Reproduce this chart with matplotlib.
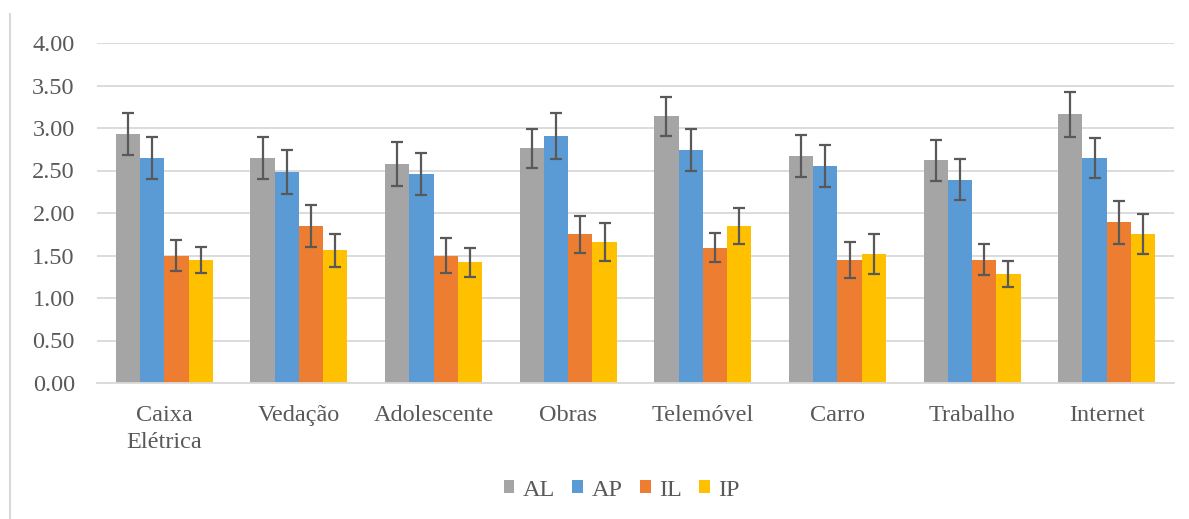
import matplotlib
matplotlib.use("Agg")
import matplotlib.pyplot as plt
import numpy as np
from matplotlib.lines import Line2D

categories = ["Caixa\nElétrica", "Vedação", "Adolescente", "Obras", "Telemóvel", "Carro", "Trabalho", "Internet"]
series_names = ["AL", "AP", "IL", "IP"]
AL = [2.93, 2.65, 2.58, 2.76, 3.14, 2.67, 2.62, 3.16]
AP = [2.65, 2.48, 2.46, 2.91, 2.74, 2.55, 2.39, 2.65]
IL = [1.50, 1.85, 1.50, 1.75, 1.59, 1.45, 1.45, 1.89]
IP = [1.45, 1.56, 1.42, 1.66, 1.85, 1.52, 1.28, 1.75]
AL_err = [0.25, 0.25, 0.26, 0.23, 0.23, 0.25, 0.24, 0.265]
AP_err = [0.25, 0.26, 0.25, 0.27, 0.25, 0.245, 0.24, 0.235]
IL_err = [0.18, 0.25, 0.21, 0.22, 0.17, 0.21, 0.185, 0.25]
IP_err = [0.155, 0.19, 0.17, 0.22, 0.21, 0.235, 0.155, 0.235]
yticks = [0.0, 0.5, 1.0, 1.5, 2.0, 2.5, 3.0, 3.5, 4.0]

colors = ["#A5A5A5", "#5B9BD5", "#ED7D31", "#FFC000"]
values = [AL, AP, IL, IP]
errs = [AL_err, AP_err, IL_err, IP_err]

plt.rcParams['font.family'] = ['Liberation Serif', 'DejaVu Serif']
FS = 17.5

fig = plt.figure(figsize=(11.89, 5.19), dpi=100)
ax = fig.add_axes([97 / 1189, 1 - 383 / 519, (1174 - 97) / 1189, (383 - 43) / 519])

x = np.arange(len(categories))
w = 0.18
for i, (vals, er, c, name) in enumerate(zip(values, errs, colors, series_names)):
    ax.bar(x + (i - 1.5) * w, vals, width=w, color=c, label=name, zorder=2,
           yerr=er, error_kw=dict(ecolor="#595959", elinewidth=1.6, capsize=4.3, capthick=1.6, zorder=3))

ax.set_xlim(-0.5, len(categories) - 0.5)
ax.set_ylim(0, 4.0)
ax.set_yticks(yticks)
ax.set_yticklabels([f"{v:.2f}" for v in yticks])
ax.set_xticks(x)
ax.set_xticklabels(categories, linespacing=1.35)
ax.tick_params(axis='both', length=0, labelsize=FS, colors="#595959")
ax.tick_params(axis='y', pad=16)
ax.tick_params(axis='x', pad=16)
ax.yaxis.grid(True, color="#D9D9D9", linewidth=1.3, zorder=0)
ax.set_axisbelow(True)
for s in ["top", "right", "left"]:
    ax.spines[s].set_visible(False)
ax.spines["bottom"].set_color("#D9D9D9")
ax.spines["bottom"].set_linewidth(1.3)

leg = fig.legend(loc="center", bbox_to_anchor=(0.523, 1 - 490 / 519), ncol=4, frameon=False,
                 fontsize=FS, handlelength=0.45, handleheight=0.45, handletextpad=0.35,
                 columnspacing=0.7)
for t in leg.get_texts():
    t.set_color("#595959")

fig.add_artist(Line2D([9.5 / 1189, 9.5 / 1189], [0, 1 - 14 / 519], transform=fig.transFigure,
                      color="#D9D9D9", linewidth=1.5))

fig.savefig("out.png", dpi=100)
